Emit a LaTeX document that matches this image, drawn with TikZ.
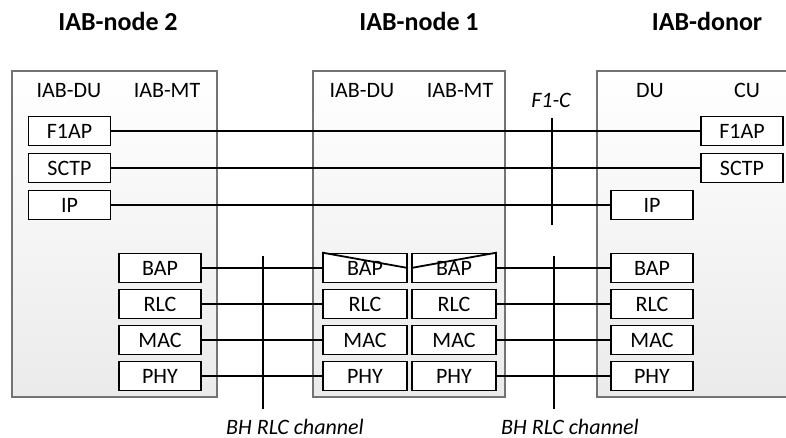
\documentclass[tikz,border=0pt]{standalone}
\usepackage{fontspec}
\setmainfont{Carlito}
\usetikzlibrary{positioning}

\begin{document}
\begin{tikzpicture}[x=1pt,y=-1pt,node distance=36pt,on grid,
    layer/.style={draw,line width=1.8pt,fill=white,minimum width=82pt,minimum height=29pt,inner sep=0pt,font=\fontsize{22}{22}\selectfont},
    wide/.style={layer,minimum width=84pt},
    host/.style={draw=black!55,line width=1.6pt,top color=white,bottom color=black!8},
    link/.style={line width=1.8pt},
    title/.style={anchor=base,font=\fontsize{26}{26}\selectfont\bfseries},
    head/.style={anchor=base,font=\fontsize{22}{22}\selectfont},
    tag/.style={anchor=base,inner sep=1pt,font=\fontsize{22}{22}\selectfont\itshape}]
\useasboundingbox (0,0) rectangle (786,438);

% hosts
\draw[host] (12,71) rectangle (217,397);
\draw[host] (313,71) rectangle (505,397);
\fill[top color=white,bottom color=black!8] (597,71) rectangle (786,397);
\draw[draw=black!55,line width=1.6pt] (787,71) -- (597,71) -- (597,397) -- (787,397);

\node[title] (n2) at (118,31) {IAB-node 2};
\node[title] (n1) at (419,31) {IAB-node 1};
\node[title] (dn) at (707,31) {IAB-donor};

\node[head] (n2du) at (69,98) {IAB-DU};
\node[head] (n2mt) at (167,98) {IAB-MT};
\node[head] (n1du) at (362,98) {IAB-DU};
\node[head] (n1mt) at (460,98) {IAB-MT};
\node[head] (dndu) at (650,98) {DU};
\node[head] (dncu) at (747,98) {CU};

% F1 stack
\node[layer] (n2f1ap) at (69.5,131) {F1AP};
\node[layer] (n2sctp) [below=37pt of n2f1ap] {SCTP};
\node[layer] (n2ip) [below=37pt of n2sctp] {IP};
\node[layer] (cuf1ap) at (742,131) {F1AP};
\node[layer] (cusctp) [below=37pt of cuf1ap] {SCTP};
\node[layer] (duip) at (652,205) {IP};

% BH stacks
\node[layer] (n2bap) at (160,268) {BAP};
\node[layer] (n2rlc) [below=of n2bap] {RLC};
\node[layer] (n2mac) [below=of n2rlc] {MAC};
\node[layer] (n2phy) [below=of n2mac] {PHY};

\node[wide] (n1dbap) at (365,268) {BAP};
\node[wide] (n1drlc) [below=of n1dbap] {RLC};
\node[wide] (n1dmac) [below=of n1drlc] {MAC};
\node[wide] (n1dphy) [below=of n1dmac] {PHY};

\node[wide] (n1mbap) [right=89pt of n1dbap] {BAP};
\node[wide] (n1mrlc) [below=of n1mbap] {RLC};
\node[wide] (n1mmac) [below=of n1mrlc] {MAC};
\node[wide] (n1mphy) [below=of n1mmac] {PHY};

\node[layer] (dnbap) at (652,268) {BAP};
\node[layer] (dnrlc) [below=of dnbap] {RLC};
\node[layer] (dnmac) [below=of dnrlc] {MAC};
\node[layer] (dnphy) [below=of dnmac] {PHY};

\draw[link] (n1dbap.north west) -- (n1dbap.east);
\draw[link] (n1mbap.north east) -- (n1mbap.west);

% peer links
\path[link]
    (n2f1ap) edge (cuf1ap)
    (n2sctp) edge (cusctp)
    (n2ip) edge (duip)
    (n2bap) edge (n1dbap)
    (n2rlc) edge (n1drlc)
    (n2mac) edge (n1dmac)
    (n2phy) edge (n1dphy)
    (n1mbap) edge (dnbap)
    (n1mrlc) edge (dnrlc)
    (n1mmac) edge (dnmac)
    (n1mphy) edge (dnphy);

% interfaces
\coordinate (f1a) at (552,118);
\coordinate (f1b) at (552,225);
\coordinate (bh1a) at (263,256);
\coordinate (bh1b) at (263,409);
\coordinate (bh2a) at (554,256);
\coordinate (bh2b) at (554,409);
\draw[link] (f1a) -- (f1b);
\draw[link] (bh1a) -- (bh1b);
\draw[link] (bh2a) -- (bh2b);

\node[tag] (f1c) at (551,108) {F1-C};
\node[tag] (bh1) at (295,434) {BH RLC channel};
\node[tag] (bh2) at (570,434) {BH RLC channel};
\end{tikzpicture}
\end{document}
